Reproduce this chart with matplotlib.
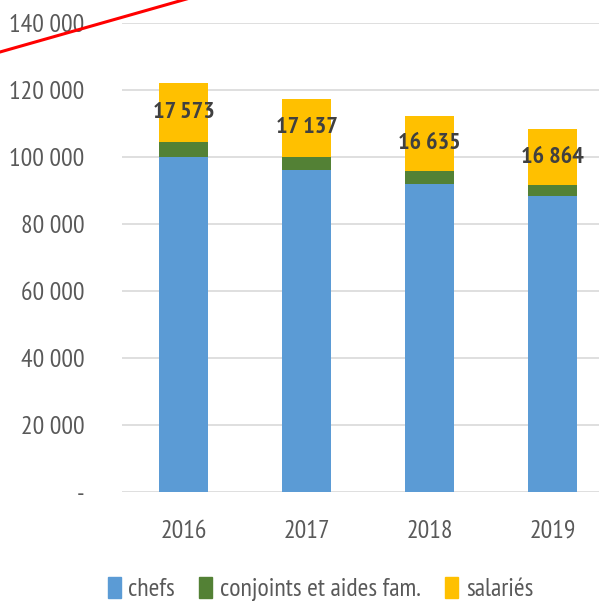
import matplotlib.pyplot as plt
from matplotlib.lines import Line2D

years = ['2016', '2017', '2018', '2019']
chefs = [99900, 96000, 91800, 88400]
conjoints = [4600, 4100, 3900, 3100]
salaries = [17573, 17137, 16635, 16864]

series_names = ['chefs', 'conjoints et aides fam.', 'salariés']
colors = ['#5B9BD5', '#538135', '#FFC000']

y_ticks = [0, 20000, 40000, 60000, 80000, 100000, 120000, 140000]

plt.rcParams['font.family'] = ['PT Sans Narrow', 'DejaVu Sans']
FS = 18.5

fig = plt.figure(figsize=(5.99, 6.01), dpi=100)
ax = fig.add_axes([122 / 599, 109 / 601, 492 / 599, 469 / 601])

x = range(len(years))
bottom2 = [a + b for a, b in zip(chefs, conjoints)]
ax.bar(x, chefs, width=0.4, color=colors[0], label=series_names[0], zorder=2)
ax.bar(x, conjoints, width=0.4, bottom=chefs, color=colors[1], label=series_names[1], zorder=2)
ax.bar(x, salaries, width=0.4, bottom=bottom2, color=colors[2], label=series_names[2], zorder=2)

for i, v in enumerate(salaries):
    ax.text(i, bottom2[i] + v / 2, f'{v:,}'.replace(',', ' '), ha='center', va='center',
            fontsize=17.5, fontweight='bold', color='#404040', zorder=3)

ax.set_xlim(-0.5, 3.5)
ax.set_ylim(0, 140000)
ax.set_yticks(y_ticks)
ax.set_yticklabels(['-' if t == 0 else f'{t:,}'.replace(',', ' ') for t in y_ticks])
ax.set_xticks(list(x))
ax.set_xticklabels(years)
ax.tick_params(axis='y', length=0, pad=27, labelsize=FS, labelcolor='#595959')
ax.tick_params(axis='x', length=0, pad=20, labelsize=FS, labelcolor='#595959')
ax.grid(axis='y', color='#D9D9D9', linewidth=1.2, zorder=0)
for s in ax.spines.values():
    s.set_visible(False)

handles = [plt.Rectangle((0, 0), 1, 1, color=c) for c in colors]
fig.legend(handles, series_names, loc='center', bbox_to_anchor=(0.535, 0.02), ncol=3,
           frameon=False, fontsize=FS, labelcolor='#595959', handlelength=0.5,
           handleheight=0.9, handletextpad=0.3, columnspacing=0.95)

# stray red stroke across the top-left corner
red_x = [0, 190 / 599]
red_y = [1 - 52 / 601, 1 + 2 / 601]
fig.add_artist(Line2D(red_x, red_y, color='#FF0000', linewidth=2.2, transform=fig.transFigure))

fig.savefig('out.png', dpi=100)
